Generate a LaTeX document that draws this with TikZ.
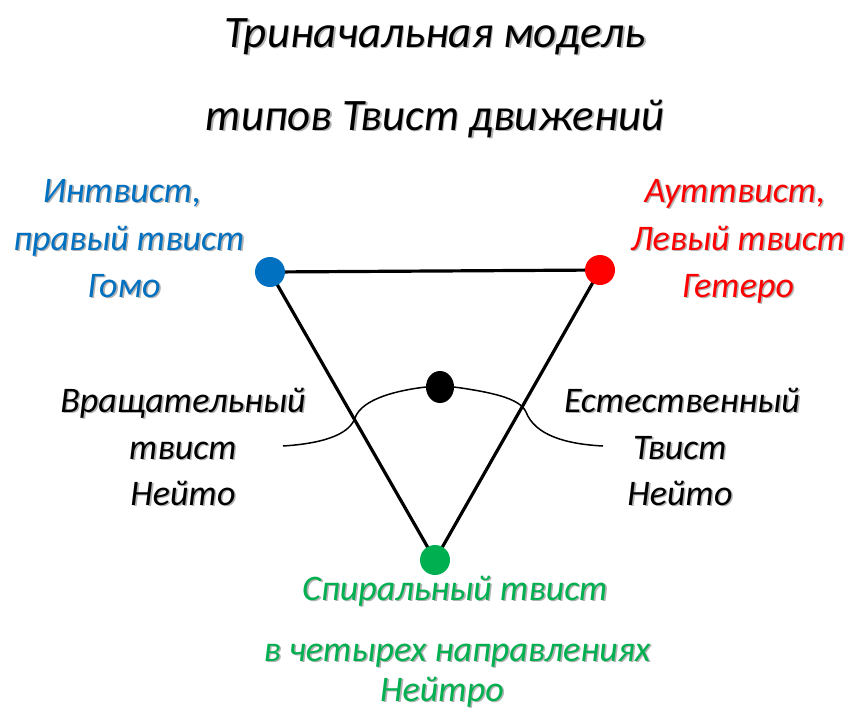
\documentclass[tikz,border=0pt]{standalone}
\usepackage{fontspec}
\usetikzlibrary{shapes.geometric}
\setmainfont{Carlito}
\definecolor{cblue}{HTML}{0070C0}
\definecolor{cred}{HTML}{FF0000}
\definecolor{cgreen}{HTML}{00B050}
\newcommand\shtxt[1]{\leavevmode\rlap{\kern1.6pt\raisebox{-1.6pt}{\textcolor{black!30}{#1}}}#1}
\begin{document}
\begin{tikzpicture}[x=1pt,y=-1pt,
  dot/.style={circle,inner sep=0pt,minimum size=30pt},
  lbl/.style={font=\fontsize{36}{36}\selectfont\itshape,inner sep=0pt,anchor=base},
  ttl/.style={font=\fontsize{45}{45}\selectfont\itshape,inner sep=0pt,anchor=base},
  edge/.style={line width=3.2pt,black},
  arc/.style={line width=1.5pt,black}]
\useasboundingbox (0,0) rectangle (849,713);
\fill[white] (0,0) rectangle (849,713);
% title
\node[ttl] (t1) at (435,47) {\shtxt{Триначальная модель}};
\node[ttl] (t2) at (435,130) {\shtxt{типов Твист движений}};
% edges
\coordinate (pb) at (270,272);
\coordinate (pr) at (600,270);
\coordinate (pg) at (435,560);
\draw[edge] (pb) -- (pr);
\draw[edge] (pb) -- (pg);
\draw[edge] (pr) -- (pg);
% curve through black dot
\node[ellipse,inner sep=0pt,minimum width=28pt,minimum height=32pt,fill=black] (bd) at (440,387) {};
\coordinate (cl) at (283,446);
\coordinate (cr) at (603,446);
\draw[arc] (cl) .. controls (330,443) and (350,432) .. (355,418)
  .. controls (362,398) and (400,390) .. (bd.west);
\draw[arc] (bd.east) .. controls (490,392) and (520,398) .. (526,412)
  .. controls (535,435) and (565,444) .. (cr);
% dots
\node[dot,fill=cblue] (db) at (pb) {};
\node[dot,fill=cred] (dr) at (pr) {};
\node[dot,fill=cgreen] (dg) at (pg) {};
% left labels
\node[lbl,text=cblue] (l1) at (122,202) {\shtxt{Интвист,}};
\node[lbl,text=cblue] (l2) at (129,250) {\shtxt{правый твист}};
\node[lbl,text=cblue] (l3) at (124,297) {\shtxt{Гомо}};
% right labels
\node[lbl,text=cred] (r1) at (735,202) {\shtxt{Ауттвист,}};
\node[lbl,text=cred] (r2) at (738,250) {\shtxt{Левый твист}};
\node[lbl,text=cred] (r3) at (738,297) {\shtxt{Гетеро}};
% middle left
\node[lbl] (m1) at (183,412) {\shtxt{Вращательный}};
\node[lbl] (m2) at (183,459) {\shtxt{твист}};
\node[lbl] (m3) at (183,505) {\shtxt{Нейто}};
% middle right
\node[lbl] (n1) at (682,412) {\shtxt{Естественный}};
\node[lbl] (n2) at (680,459) {\shtxt{Твист}};
\node[lbl] (n3) at (680,505) {\shtxt{Нейто}};
% bottom
\node[lbl,text=cgreen] (b1) at (455,600) {\shtxt{Спиральный твист}};
\node[lbl,text=cgreen] (b2) at (457,661) {\shtxt{в четырех направлениях}};
\node[lbl,text=cgreen] (b3) at (442,701) {\shtxt{Нейтро}};
\end{tikzpicture}
\end{document}
